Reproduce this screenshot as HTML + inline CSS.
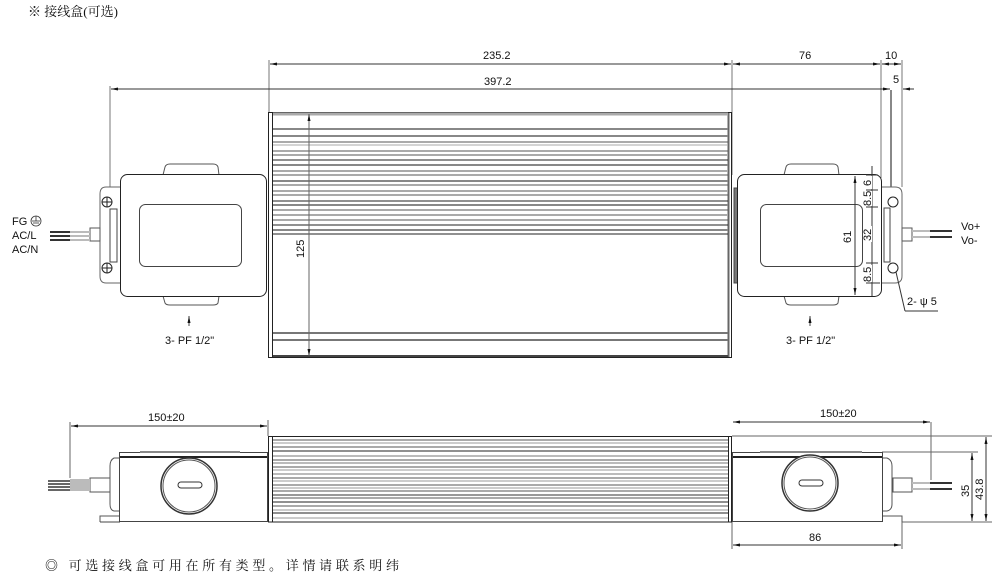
<!DOCTYPE html>
<html><head><meta charset="utf-8"><style>
html,body{margin:0;padding:0;background:#fff;}
svg{display:block;}
text{font-family:"Liberation Sans",sans-serif;fill:#111;}
.cjk{font-family:"Liberation Serif","Noto Serif CJK SC",serif;}
</style></head><body>
<svg width="997" height="579" viewBox="0 0 997 579" xmlns="http://www.w3.org/2000/svg">
<defs>
<marker id="a" markerWidth="8" markerHeight="6" refX="7" refY="3" orient="auto-start-reverse" markerUnits="userSpaceOnUse"><path d="M0,1.5 L7,3 L0,4.5z" fill="#111"/></marker>
</defs>
<text x="28" y="16" font-size="13" class="cjk">※ 接线盒(可选)</text>
<text x="45" y="570" font-size="13" class="cjk" letter-spacing="3.7">◎ 可选接线盒可用在所有类型。详情请联系明纬</text>

<g stroke="#333" stroke-width="1" fill="none">
<line x1="269" y1="60" x2="269" y2="112" stroke="#777"/>
<line x1="732" y1="60" x2="732" y2="175" stroke="#777"/>
<line x1="881" y1="60" x2="881" y2="178" stroke="#777"/>
<line x1="902" y1="60" x2="902" y2="187" stroke="#777"/>
<line x1="110" y1="86" x2="110" y2="187" stroke="#777"/>
<line x1="891" y1="90" x2="891" y2="200" stroke="#111"/>
<line x1="270" y1="64" x2="731" y2="64" marker-start="url(#a)" marker-end="url(#a)"/>
<line x1="733" y1="64" x2="880" y2="64" marker-start="url(#a)" marker-end="url(#a)"/>
<line x1="882" y1="64" x2="901" y2="64" marker-start="url(#a)" marker-end="url(#a)"/>
<line x1="111" y1="89" x2="886" y2="89" marker-start="url(#a)"/>
<line x1="880" y1="89" x2="890" y2="89" marker-end="url(#a)"/>
<line x1="914" y1="89" x2="903" y2="89" marker-end="url(#a)"/>
</g>
<text x="483" y="59" font-size="11">235.2</text>
<text x="799" y="59" font-size="11">76</text>
<text x="885" y="59" font-size="11">10</text>
<text x="484" y="85" font-size="11">397.2</text>
<text x="893" y="83" font-size="11">5</text>

<g fill="none">
<rect x="268.5" y="112.5" width="463" height="245" stroke="#222"/>
<line x1="272.5" y1="113" x2="272.5" y2="357" stroke="#222"/>
<line x1="728.5" y1="113" x2="728.5" y2="357" stroke="#666" stroke-width="2"/>
<line x1="273" y1="114" x2="728" y2="114" stroke="#aaa" stroke-width="3"/>
<g stroke="#555">
<line x1="273" y1="129" x2="728" y2="129" stroke-width="2" stroke="#888"/>
<line x1="273" y1="136" x2="728" y2="136" stroke-width="2" stroke="#888"/>
<line x1="273" y1="142" x2="728" y2="142"/><line x1="273" y1="145" x2="728" y2="145" stroke="#aaa"/>
<line x1="273" y1="151" x2="728" y2="151"/><line x1="273" y1="155" x2="728" y2="155" stroke="#aaa" stroke-width="2"/>
<line x1="273" y1="160" x2="728" y2="160" stroke="#222"/><line x1="273" y1="165" x2="728" y2="165" stroke="#888" stroke-width="2"/>
<line x1="273" y1="171" x2="728" y2="171" stroke="#aaa" stroke-width="2"/><line x1="273" y1="175" x2="728" y2="175"/>
<line x1="273" y1="181" x2="728" y2="181" stroke="#888" stroke-width="2"/><line x1="273" y1="185" x2="728" y2="185"/>
<line x1="273" y1="191" x2="728" y2="191" stroke="#aaa" stroke-width="2"/><line x1="273" y1="195" x2="728" y2="195"/>
<line x1="273" y1="201" x2="728" y2="201" stroke="#222"/><line x1="273" y1="205" x2="728" y2="205" stroke="#888" stroke-width="2"/>
<line x1="273" y1="210" x2="728" y2="210"/><line x1="273" y1="215" x2="728" y2="215" stroke="#aaa" stroke-width="2"/>
<line x1="273" y1="220" x2="728" y2="220"/><line x1="273" y1="225" x2="728" y2="225" stroke="#222"/>
<line x1="273" y1="230" x2="728" y2="230" stroke="#888" stroke-width="2"/><line x1="273" y1="234" x2="728" y2="234" stroke="#222"/>
<line x1="273" y1="333" x2="728" y2="333" stroke="#777" stroke-width="2"/>
<line x1="273" y1="340" x2="728" y2="340" stroke="#777" stroke-width="2"/>
<line x1="273" y1="356" x2="728" y2="356" stroke="#444" stroke-width="2"/>
</g>
<line x1="309" y1="114" x2="309" y2="356" stroke="#666" marker-start="url(#a)" marker-end="url(#a)"/>
</g>
<text transform="translate(304,258) rotate(-90)" font-size="11">125</text>

<g stroke="#222" fill="#fff">
<path d="M163,175 L165,167 Q166,164 170,164 L213,164 Q217,164 218,167 L219,175" stroke="#555"/>
<path d="M163,296 L165,303 Q166,305 170,305 L213,305 Q217,305 218,303 L219,296" stroke="#555"/>
<path d="M120,187 L106,187 Q100,187 100,194 L100,276 Q100,283 106,283 L120,283" stroke="#666"/>
<rect x="90" y="228" width="10" height="13" stroke="#555"/>
<rect x="120.5" y="174.5" width="146" height="122" rx="7"/>
<rect x="139.5" y="204.5" width="102" height="62" rx="6" stroke="#444"/>
<rect x="110" y="209" width="7" height="53" stroke="#444"/>
<circle cx="107" cy="202" r="5" fill="none"/><line x1="102" y1="202" x2="112" y2="202"/><line x1="107" y1="197" x2="107" y2="207"/>
<circle cx="107" cy="268" r="5" fill="none"/><line x1="102" y1="268" x2="112" y2="268"/><line x1="107" y1="263" x2="107" y2="273"/>
</g>
<g stroke-width="2">
<line x1="50" y1="232" x2="70" y2="232" stroke="#333"/><line x1="70" y1="232" x2="90" y2="232" stroke="#bbb"/>
<line x1="50" y1="236" x2="70" y2="236" stroke="#333"/><line x1="70" y1="236" x2="90" y2="236" stroke="#bbb"/>
<line x1="50" y1="240" x2="70" y2="240" stroke="#333"/><line x1="70" y1="240" x2="90" y2="240" stroke="#bbb"/>
</g>
<text x="12" y="225" font-size="11">FG</text>
<circle cx="36" cy="221" r="5" fill="none" stroke="#333" stroke-width="0.8"/>
<line x1="32" y1="221" x2="40" y2="221" stroke="#333" stroke-width="0.8"/><line x1="33" y1="223" x2="39" y2="223" stroke="#333" stroke-width="0.8"/><line x1="36" y1="216" x2="36" y2="221" stroke="#333" stroke-width="0.8"/>
<text x="12" y="239" font-size="11">AC/L</text>
<text x="12" y="253" font-size="11">AC/N</text>
<line x1="189" y1="326" x2="189" y2="316" stroke="#444" marker-end="url(#a)"/>
<text x="165" y="344" font-size="11">3- PF 1/2"</text>

<g stroke="#222" fill="#fff">
<path d="M784,175 L786,167 Q787,164 791,164 L833,164 Q837,164 838,167 L839,175" stroke="#555"/>
<path d="M784,296 L786,303 Q787,305 791,305 L833,305 Q837,305 838,303 L839,296" stroke="#555"/>
<path d="M880,187 L895,187 Q902,187 902,194 L902,276 Q902,283 895,283 L880,283" stroke="#666"/>
<rect x="902" y="228" width="10" height="13" stroke="#555"/>
<rect x="734" y="188" width="4" height="95" fill="#777" stroke="#444"/>
<rect x="737.5" y="174.5" width="144" height="122" rx="7"/>
<rect x="760.5" y="204.5" width="102" height="62" rx="6" stroke="#444"/>
<rect x="884" y="208" width="6" height="54" stroke="#444"/>
<circle cx="893" cy="202" r="5"/>
<circle cx="893" cy="268" r="5"/>
</g>
<g stroke-width="2">
<line x1="912" y1="231" x2="930" y2="231" stroke="#bbb"/><line x1="930" y1="231" x2="952" y2="231" stroke="#333"/>
<line x1="912" y1="237" x2="930" y2="237" stroke="#bbb"/><line x1="930" y1="237" x2="952" y2="237" stroke="#333"/>
</g>
<text x="961" y="230" font-size="11">Vo+</text>
<text x="961" y="244" font-size="11">Vo-</text>
<g stroke="#333" fill="none">
<line x1="855" y1="176" x2="855" y2="295" marker-start="url(#a)" marker-end="url(#a)"/>
<line x1="872" y1="166" x2="872" y2="296"/>
<line x1="866" y1="175" x2="878" y2="175"/>
<line x1="866" y1="190" x2="878" y2="190"/>
<line x1="866" y1="207" x2="878" y2="207"/>
<line x1="866" y1="263" x2="878" y2="263"/>
<line x1="866" y1="283" x2="880" y2="283"/>
<line x1="896" y1="272" x2="905" y2="311"/>
<line x1="905" y1="311" x2="938" y2="311"/>
</g>
<rect x="864" y="176" width="8" height="13" fill="#fff"/>
<rect x="864" y="191" width="8" height="15" fill="#fff"/>
<rect x="864" y="226" width="8" height="16" fill="#fff"/>
<rect x="864" y="265" width="8" height="17" fill="#fff"/>
<text transform="translate(851,243) rotate(-90)" font-size="11">61</text>
<text transform="translate(871,186) rotate(-90)" font-size="11">6</text>
<text transform="translate(871,206) rotate(-90)" font-size="11">8.5</text>
<text transform="translate(871,241) rotate(-90)" font-size="11">32</text>
<text transform="translate(871,282) rotate(-90)" font-size="11">8.5</text>
<text x="907" y="305" font-size="11">2- ψ 5</text>
<line x1="810" y1="326" x2="810" y2="316" stroke="#444" marker-end="url(#a)"/>
<text x="786" y="344" font-size="11">3- PF 1/2"</text>

<g stroke="#333" fill="none">
<line x1="70" y1="422" x2="70" y2="478" stroke="#666"/>
<line x1="268" y1="420" x2="268" y2="436" stroke="#666"/>
<line x1="71" y1="426" x2="267" y2="426" marker-start="url(#a)" marker-end="url(#a)"/>
<line x1="931" y1="422" x2="931" y2="480" stroke="#666"/>
<line x1="733" y1="422" x2="930" y2="422" marker-start="url(#a)" marker-end="url(#a)"/>
<line x1="732" y1="436" x2="992" y2="436" stroke="#666"/>
<line x1="882" y1="452" x2="978" y2="452" stroke="#666"/>
<line x1="902" y1="522" x2="992" y2="522" stroke="#666"/>
<line x1="972" y1="453" x2="972" y2="521" marker-start="url(#a)" marker-end="url(#a)"/>
<line x1="986" y1="437" x2="986" y2="521" marker-start="url(#a)" marker-end="url(#a)"/>
<line x1="732" y1="522" x2="732" y2="549" stroke="#666"/>
<line x1="902" y1="522" x2="902" y2="549" stroke="#666"/>
<line x1="733" y1="545" x2="901" y2="545" marker-start="url(#a)" marker-end="url(#a)"/>
</g>
<text x="148" y="421" font-size="11">150±20</text>
<text x="820" y="417" font-size="11">150±20</text>
<text transform="translate(969,497) rotate(-90)" font-size="11">35</text>
<text transform="translate(983,500) rotate(-90)" font-size="11">43.8</text>
<text x="809" y="541" font-size="11">86</text>

<g fill="none">
<rect x="268.5" y="436.5" width="463" height="85.5" stroke="#222"/>
<line x1="272.5" y1="437" x2="272.5" y2="522" stroke="#222"/>
<line x1="728.5" y1="437" x2="728.5" y2="522" stroke="#222"/>
<g stroke="#555">
<line x1="273" y1="440" x2="728" y2="440"/><line x1="273" y1="443" x2="728" y2="443" stroke="#999"/>
<line x1="273" y1="447" x2="728" y2="447"/><line x1="273" y1="451" x2="728" y2="451" stroke="#222"/>
<line x1="273" y1="456" x2="728" y2="456" stroke="#bbb" stroke-width="2"/><line x1="273" y1="460" x2="728" y2="460"/>
<line x1="273" y1="463" x2="728" y2="463" stroke="#bbb" stroke-width="2"/><line x1="273" y1="467" x2="728" y2="467"/>
<line x1="273" y1="470" x2="728" y2="470" stroke="#999"/><line x1="273" y1="474" x2="728" y2="474" stroke="#bbb" stroke-width="2"/>
<line x1="273" y1="478" x2="728" y2="478"/><line x1="273" y1="481" x2="728" y2="481" stroke="#999"/>
<line x1="273" y1="485" x2="728" y2="485"/><line x1="273" y1="488" x2="728" y2="488" stroke="#999"/>
<line x1="273" y1="491" x2="728" y2="491"/><line x1="273" y1="495" x2="728" y2="495" stroke="#999" stroke-width="2"/>
<line x1="273" y1="498" x2="728" y2="498"/><line x1="273" y1="502" x2="728" y2="502" stroke="#222"/>
<line x1="273" y1="506" x2="728" y2="506"/><line x1="273" y1="510" x2="728" y2="510" stroke="#999"/>
<line x1="273" y1="513" x2="728" y2="513" stroke="#222"/><line x1="273" y1="518" x2="728" y2="518" stroke="#999"/>
</g>
</g>
<g stroke="#333" fill="#fff">
<rect x="119.5" y="452.5" width="148" height="69" stroke="#444"/>
<line x1="120" y1="457" x2="267" y2="457" stroke="#222" stroke-width="2"/>
<line x1="140" y1="452" x2="240" y2="452" stroke="#888" stroke-width="2"/>
<path d="M119,458 L114,458 Q110,460 110,466 L110,504 Q110,510 114,511 L119,511" stroke="#555"/>
<path d="M100,522 L100,516 L119,516" stroke="#555" fill="none"/>
<line x1="100" y1="522" x2="120" y2="522" stroke="#444"/>
<rect x="90" y="478" width="20" height="14" stroke="#555"/>
<circle cx="189" cy="486" r="28" stroke-width="1.5"/>
<circle cx="189" cy="486" r="26" fill="none" stroke="#555"/>
<rect x="178" y="482" width="24" height="6" rx="3"/>
</g>
<rect x="70" y="479" width="20" height="12" fill="#bbb"/>
<g stroke="#333" stroke-width="1.5"><line x1="48" y1="481" x2="70" y2="481"/><line x1="48" y1="484" x2="70" y2="484"/><line x1="48" y1="487" x2="70" y2="487"/><line x1="48" y1="490" x2="70" y2="490"/></g>
<g stroke="#333" fill="#fff">
<rect x="732.5" y="452.5" width="150" height="69" stroke="#444"/>
<line x1="733" y1="457" x2="882" y2="457" stroke="#222" stroke-width="2"/>
<line x1="760" y1="452" x2="862" y2="452" stroke="#888" stroke-width="2"/>
<path d="M883,458 L887,458 Q892,460 892,466 L892,504 Q892,510 887,511 L883,511" stroke="#555"/>
<path d="M883,516 L902,516 L902,522" stroke="#555" fill="none"/>
<rect x="893" y="478" width="19" height="14" stroke="#555"/>
<circle cx="810" cy="483" r="28" stroke-width="1.5"/>
<circle cx="810" cy="483" r="26" fill="none" stroke="#555"/>
<rect x="799" y="480" width="24" height="6" rx="3"/>
</g>
<g stroke-width="2"><line x1="912" y1="483" x2="930" y2="483" stroke="#bbb"/><line x1="930" y1="483" x2="952" y2="483" stroke="#333"/>
<line x1="912" y1="489" x2="930" y2="489" stroke="#bbb"/><line x1="930" y1="489" x2="952" y2="489" stroke="#333"/></g>
</svg>
</body></html>
